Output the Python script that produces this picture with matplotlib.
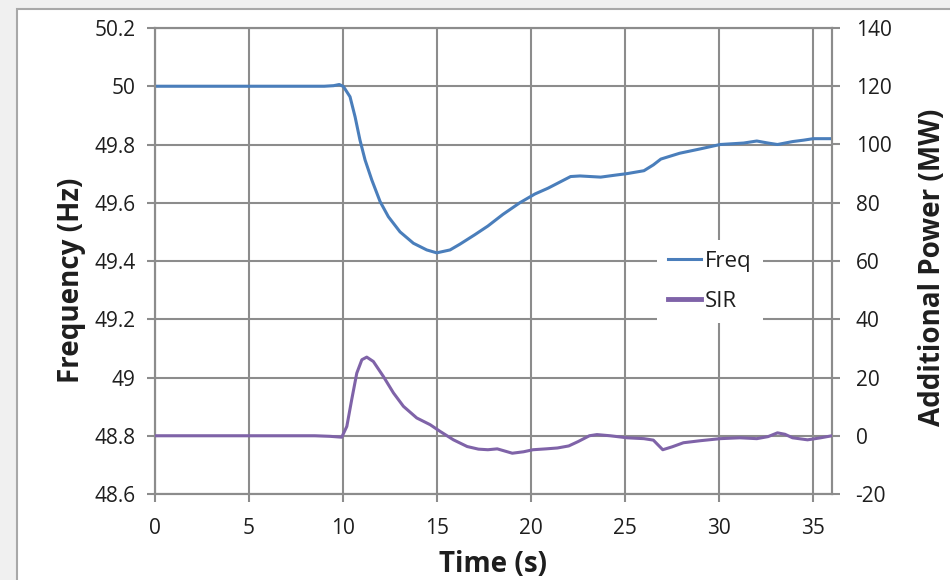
import matplotlib
matplotlib.use("Agg")
import matplotlib.pyplot as plt
from matplotlib.patches import Rectangle

plt.rcParams["font.family"] = ["Open Sans", "DejaVu Sans"]
plt.rcParams["axes.unicode_minus"] = False

# Frequency response (Hz), left axis
freq_t = [0, 5, 9.0, 9.5, 9.8, 10.02, 10.37, 10.64, 10.9, 11.17, 11.53, 11.97,
          12.41, 13.03, 13.74, 14.45, 14.98, 15.69, 16.22, 17.0, 17.7, 18.5,
          19.4, 20.2, 20.9, 21.5, 22.1, 22.6, 23.7, 24.5, 25.1, 26.0, 26.5,
          26.9, 27.9, 29.0, 30.05, 31.3, 32.0, 32.6, 33.1, 33.9, 34.5, 35.0, 36.0]
freq_hz = [50.0, 50.0, 50.0, 50.002, 50.006, 49.999, 49.964, 49.895, 49.815,
           49.747, 49.678, 49.604, 49.552, 49.50, 49.461, 49.438, 49.428, 49.438,
           49.458, 49.49, 49.52, 49.56, 49.60, 49.63, 49.65, 49.67, 49.69,
           49.692, 49.688, 49.695, 49.70, 49.71, 49.73, 49.75, 49.77, 49.785,
           49.80, 49.805, 49.812, 49.805, 49.80, 49.81, 49.815, 49.82, 49.82]

# SIR additional power (MW), right axis
sir_t = [0, 5, 8.5, 9.31, 9.93, 10.2, 10.46, 10.73, 11.0, 11.26, 11.61, 12.14,
         12.68, 13.21, 13.92, 14.63, 15.16, 15.87, 16.6, 17.2, 17.7, 18.2, 19.0,
         19.6, 20.1, 20.8, 21.4, 22.0, 22.5, 23.1, 23.5, 24.2, 25.1, 26.0, 26.5,
         27.0, 27.5, 28.1, 29.0, 30.05, 31.1, 32.0, 32.6, 33.1, 33.5, 33.9, 34.7,
         35.4, 36.0]
sir_mw = [0, 0, 0, -0.2, -0.5, 3.2, 12.4, 21.5, 26.1, 27.0, 25.5, 20.4, 14.7,
          10.1, 6.1, 3.8, 1.5, -1.4, -3.7, -4.6, -4.8, -4.5, -6, -5.5, -4.8,
          -4.5, -4.2, -3.5, -2, 0, 0.4, 0, -0.7, -1, -1.5, -4.8, -3.8, -2.4,
          -1.7, -1, -0.7, -1, -0.3, 1, 0.5, -0.7, -1.4, -0.7, 0]

x_ticks = [0, 5, 10, 15, 20, 25, 30, 35]
hz_ticks = [48.6, 48.8, 49.0, 49.2, 49.4, 49.6, 49.8, 50.0, 50.2]
hz_labels = ["48.6", "48.8", "49", "49.2", "49.4", "49.6", "49.8", "50", "50.2"]
mw_ticks = [-20, 0, 20, 40, 60, 80, 100, 120, 140]

grid_col = "#8c8c8c"
text_col = "#1e1e1e"

fig = plt.figure(figsize=(9.5, 5.8), dpi=100, facecolor="#f0f0f0")
fig.patches.append(Rectangle((17 / 950, -0.1), 1.2, 1 - 9 / 580 + 0.1,
                             transform=fig.transFigure, facecolor="white",
                             edgecolor="#a8a8a8", linewidth=1.5, zorder=-10))

ax = fig.add_axes([155 / 950, 1 - 494 / 580, 677 / 950, 466 / 580])
ax.set_facecolor("none")
ax2 = ax.twinx()

l1, = ax.plot(freq_t, freq_hz, color="#4a7ebb", lw=2.2, label="Freq",
              solid_joinstyle="round", zorder=3)
l2, = ax2.plot(sir_t, sir_mw, color="#7f63a8", lw=2.2, label="SIR",
               solid_joinstyle="round", zorder=3)

ax.set_xlim(0, 36)
ax.set_ylim(48.6, 50.2)
ax2.set_ylim(-20, 140)
ax.set_xticks(x_ticks)
ax.set_yticks(hz_ticks)
ax.set_yticklabels(hz_labels)
ax2.set_yticks(mw_ticks)

ax.grid(True, color=grid_col, lw=1.5)
ax.set_axisbelow(True)
for a in (ax, ax2):
    for s in a.spines.values():
        s.set_color(grid_col)
        s.set_linewidth(1.5)
    a.tick_params(colors=grid_col, labelcolor=text_col, width=1.5, length=6,
                  labelsize=15, pad=8)
ax.tick_params(axis="x", pad=11)
ax2.tick_params(axis="y", pad=11)

ax.set_xlabel("Time (s)", fontsize=20, fontweight="bold", color=text_col,
              labelpad=8)
ax.set_ylabel("Frequency (Hz)", fontsize=20, fontweight="bold", color=text_col,
              labelpad=6)
ax2.set_ylabel("Additional Power (MW)", fontsize=20, fontweight="bold",
               color=text_col, labelpad=19)
ax.yaxis.label.set_y(0.459)
ax2.yaxis.label.set_y(0.487)

leg = ax2.legend(handles=[l1, l2], loc="center left",
                 bbox_to_anchor=(0.7415, 0.456), frameon=True, facecolor="white",
                 edgecolor="none", framealpha=1, fancybox=False, fontsize=16,
                 handlelength=1.5, handletextpad=0.15, labelspacing=0.85,
                 borderpad=0.5, borderaxespad=0)
leg.get_lines()[1].set_linewidth(3.5)
for t in leg.get_texts():
    t.set_color(text_col)

fig.savefig("out.png", dpi=100, facecolor=fig.get_facecolor())
